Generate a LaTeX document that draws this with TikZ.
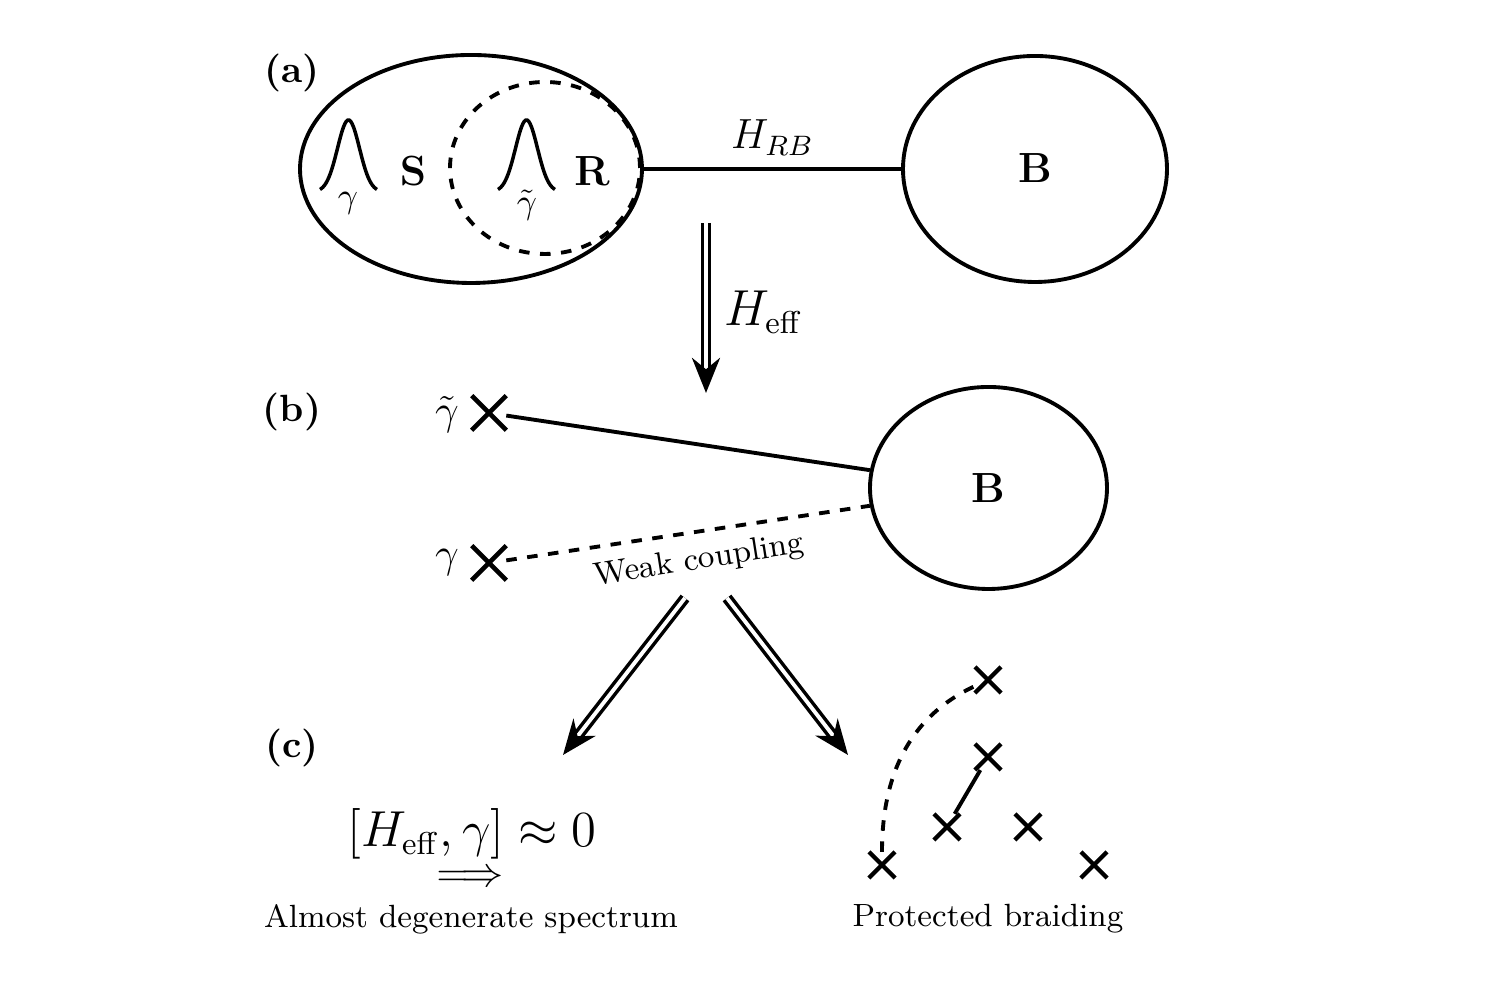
\documentclass[tikz,border=0pt]{standalone}
\usepackage{amsmath}
\usetikzlibrary{shapes.geometric}
\usetikzlibrary{shapes.misc}
\usetikzlibrary{positioning}
\usetikzlibrary{arrows.meta}

\tikzset{
  panel/.style={font=\fontsize{10.8}{13}\selectfont\bfseries},
  blob/.style={draw, ellipse, line width=1.1pt, inner sep=0pt},
  link/.style={line width=1.1pt},
  bigmath/.style={font=\fontsize{13}{15}\selectfont},
  caption/.style={font=\fontsize{9.15}{11}\selectfont},
  xmark/.style={draw, cross out, line width=1.3pt, minimum size=0.3cm, inner sep=0pt},
  smallx/.style={draw, cross out, line width=1.2pt, minimum size=0.22cm, inner sep=0pt},
  implies/.style={double, double distance=1.1pt, line width=1pt, -{Stealth[length=10pt,width=8pt]}}
}

\begin{document}
\begin{tikzpicture}
            \useasboundingbox (0,0) rectangle (15,10);
            % (a) system, reservoir and bath
            \node[panel] (la) at (2.92,9.27) {(a)};
            \node[blob, minimum width=3.42cm, minimum height=2.28cm] (sys) at (4.71,8.31) {};
            \node[blob, dashed, minimum width=1.9cm, minimum height=1.72cm] (res) at (5.45,8.32) {};
            \node[blob, minimum width=2.64cm, minimum height=2.26cm] (bath) at (10.35,8.31) {};
            \foreach \px in {3.485,5.265}
              \draw[line width=1pt] plot[domain=-0.285:0.285, samples=40, smooth] ({\px+\x}, {8.08+0.72*exp(-\x*\x/0.0242)});
            \node (g1) at (3.48,7.97) {$\gamma$};
            \node (g2) at (5.27,7.95) {$\tilde{\gamma}$};
            \node[font=\fontsize{12}{14}\selectfont] (S) at (4.13,8.29) {$\mathbf{S}$};
            \node[font=\fontsize{12}{14}\selectfont] (R) at (5.92,8.29) {$\mathbf{R}$};
            \node[font=\fontsize{12}{14}\selectfont] (B) at (10.35,8.32) {$\mathbf{B}$};
            \draw[link] (sys.east) -- node[above, font=\fontsize{11.8}{14}\selectfont] (hrb) {$H_{RB}$} (bath.west);

            \coordinate (t1) at (7.06,7.77);
            \coordinate (h1) at (7.06,6.07);
            \draw[implies] (t1) -- (h1);
            \node[font=\fontsize{13.5}{16}\selectfont, anchor=west] (heff) at (7.12,6.88) {$H_{\mathrm{eff}}$};

            % (b) effective coupling
            \node[panel] (lb) at (2.92,5.88) {(b)};
            \node[blob, minimum width=2.37cm, minimum height=2.02cm] (bath2) at (9.885,5.12) {};
            \node[font=\fontsize{12}{14}\selectfont] (B2) at (9.88,5.12) {$\mathbf{B}$};
            \node[xmark] (xt) at (4.89,5.87) {};
            \node[xmark] (xg) at (4.89,4.37) {};
            \node[bigmath] (lt) at (4.47,5.85) {$\tilde{\gamma}$};
            \node[bigmath] (lg) at (4.47,4.37) {$\gamma$};
            \draw[link] (xt) -- (bath2);
            \draw[link, dashed] (xg) -- (bath2);
            \node[caption, rotate=9] (weak) at (6.99,4.39) {Weak coupling};

            \coordinate (t2) at (6.85,4.02);
            \coordinate (h2) at (5.63,2.45);
            \coordinate (t3) at (7.27,4.02);
            \coordinate (h3) at (8.48,2.45);
            \draw[implies] (t2) -- (h2);
            \draw[implies] (t3) -- (h3);

            % (c) consequences
            \node[panel] (lc) at (2.92,2.52) {(c)};
            \node[font=\fontsize{13.3}{16}\selectfont, inner sep=1pt] (comm) at (4.72,1.66) {$[H_{\mathrm{eff}},\gamma]\approx 0$};
            \node[bigmath, inner sep=1pt] (then) at (4.70,1.21) {$\Longrightarrow$};
            \node[caption, anchor=base] (spec) at (4.71,0.72) {Almost degenerate spectrum};

            \node[smallx] (c1) at (9.88,3.20) {};
            \node[smallx] (c2) at (9.88,2.43) {};
            \node[smallx] (c3) at (9.47,1.73) {};
            \node[smallx] (c4) at (10.28,1.73) {};
            \node[smallx] (c5) at (8.82,1.35) {};
            \node[smallx] (c6) at (10.94,1.35) {};
            \draw[link, dashed] (c5) to[out=90, in=205] (c1);
            \draw[link] (c2) -- (c3);
            \node[caption, anchor=base] (braid) at (9.88,0.73) {Protected braiding};
        \end{tikzpicture}
\end{document}
